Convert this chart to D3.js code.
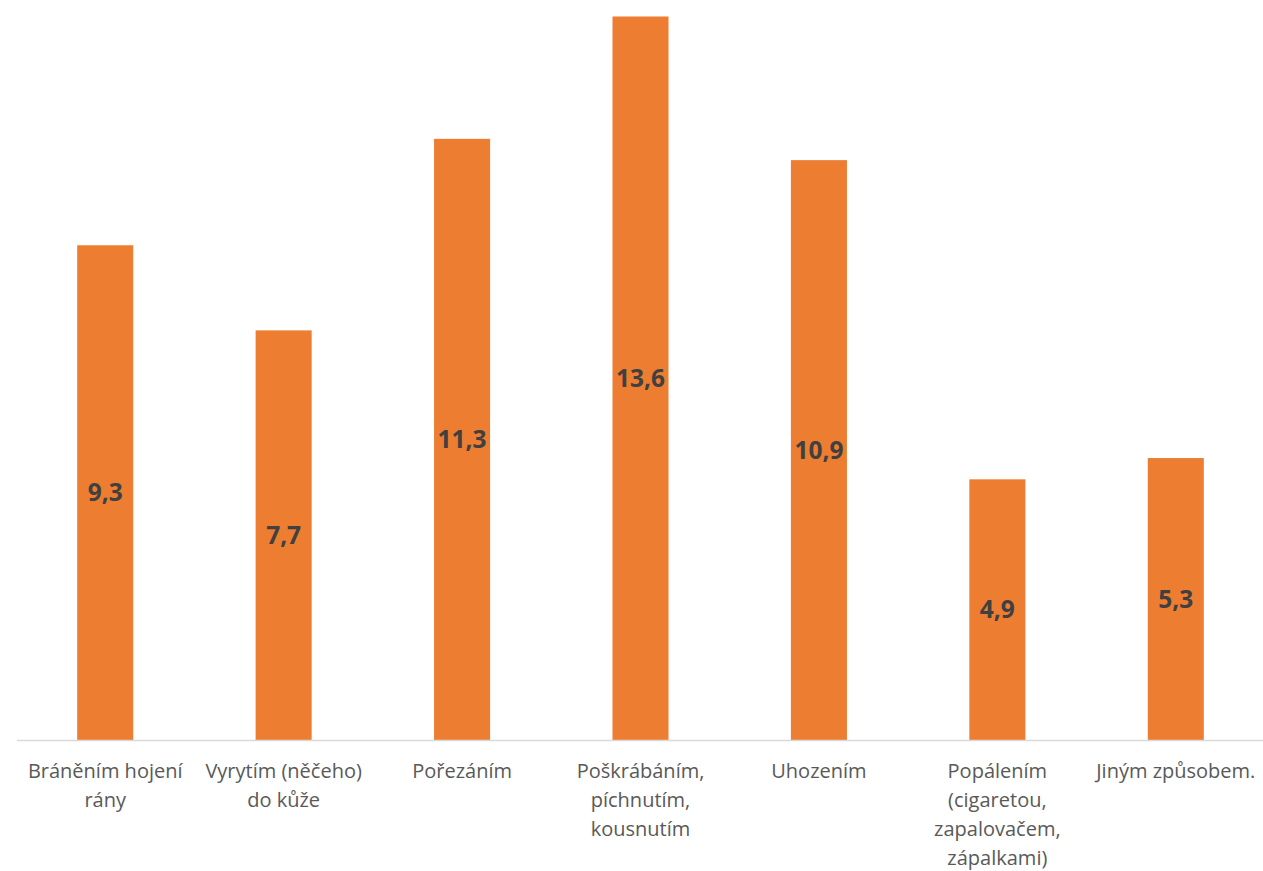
<!DOCTYPE html>
<html><head><meta charset="utf-8">
<script src="https://cdn.jsdelivr.net/npm/d3@7"></script>
<style>body{margin:0;background:#fff}svg{display:block}</style>
</head><body>
<svg id="c" width="1263" height="871"></svg>
<script>
const categories = [
  ["Bráněním hojení", "rány"],
  ["Vyrytím (něčeho)", "do kůže"],
  ["Pořezáním"],
  ["Poškrábáním,", "píchnutím,", "kousnutím"],
  ["Uhozením"],
  ["Popálením", "(cigaretou,", "zapalovačem,", "zápalkami)"],
  ["Jiným způsobem."]
];
const values = [9.3, 7.7, 11.3, 13.6, 10.9, 4.9, 5.3];
const valueLabels = ["9,3", "7,7", "11,3", "13,6", "10,9", "4,9", "5,3"];

const svg = d3.select("#c");
const x = d3.scaleBand().domain(d3.range(values.length)).range([16, 1265]).paddingInner(0.686).paddingOuter(0.343);
const y = d3.scaleLinear().domain([0, 13.6]).range([740, 16.5]);

svg.selectAll("rect.bar").data(values).join("rect")
  .attr("class","bar")
  .attr("x",(d,i)=>x(i)).attr("width",x.bandwidth())
  .attr("y",d=>y(d)).attr("height",d=>y(0)-y(d))
  .attr("fill","#ed7d31");

svg.append("line").attr("x1",17).attr("x2",1263).attr("y1",740.5).attr("y2",740.5)
  .attr("stroke","#d9d9d9").attr("stroke-width",1.5);

svg.selectAll("text.val").data(values).join("text")
  .attr("class","val")
  .attr("x",(d,i)=>x(i)+x.bandwidth()/2)
  .attr("y",d=>(y(d)+y(0))/2)
  .attr("dy","0.36em")
  .attr("text-anchor","middle")
  .attr("font-family","'Open Sans', sans-serif")
  .attr("font-weight","bold").attr("font-size",24.5)
  .attr("fill","#404040")
  .text((d,i)=>valueLabels[i]);

const cg = svg.selectAll("text.cat").data(categories).join("text")
  .attr("class","cat")
  .attr("text-anchor","middle")
  .attr("font-family","'Open Sans', sans-serif")
  .attr("font-size",20)
  .attr("fill","#595959");
cg.each(function(lines,i){
  const t=d3.select(this);
  lines.forEach((l,j)=>{
    t.append("tspan").attr("x",x(i)+x.bandwidth()/2).attr("y",778+j*29).text(l);
  });
});
</script>
</body></html>
